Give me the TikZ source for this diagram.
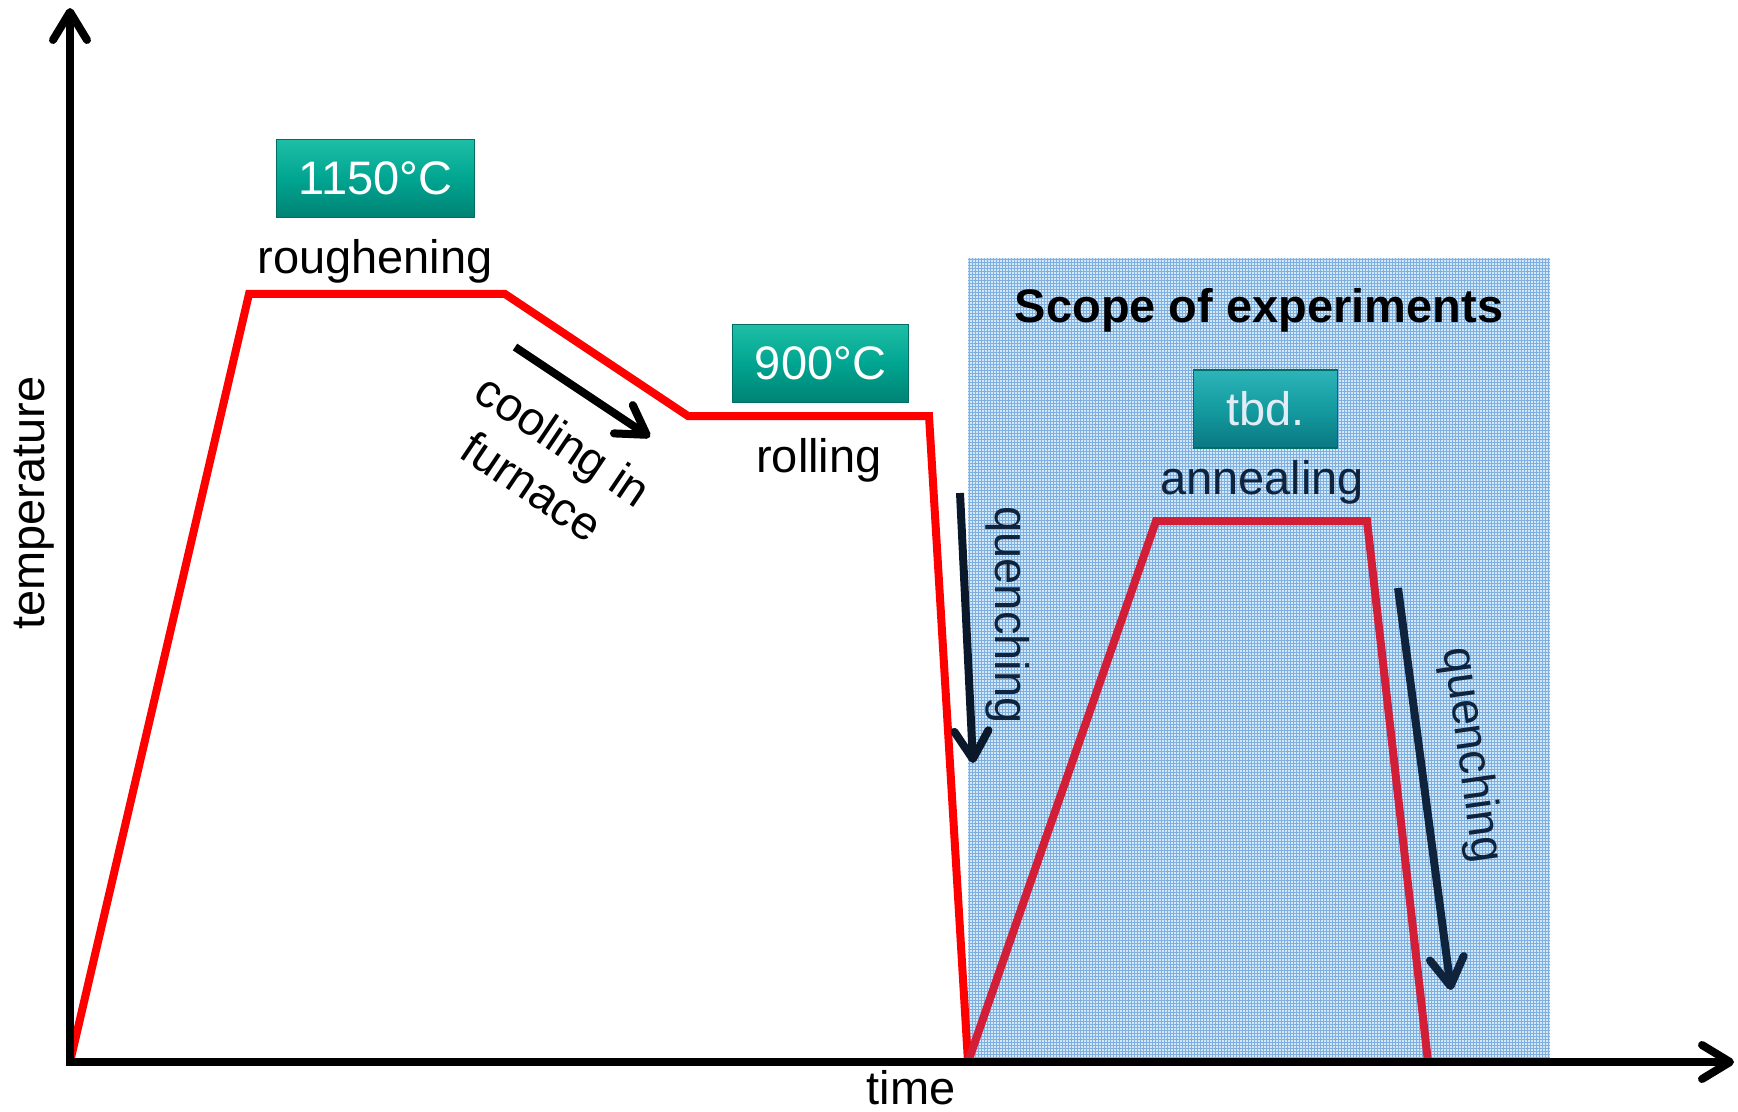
\documentclass[tikz,border=0pt]{standalone}
\usepackage{fontspec}
\setmainfont{Liberation Sans}
\usetikzlibrary{arrows.meta}
\definecolor{curvered}{RGB}{255,0,0}
\definecolor{curvedark}{RGB}{210,30,55}
\definecolor{navy}{RGB}{15,35,60}
\definecolor{scopebase}{RGB}{212,232,248}
\definecolor{scopeline}{RGB}{125,175,225}
\definecolor{tealtop}{RGB}{30,190,165}
\definecolor{tealmid}{RGB}{0,165,145}
\definecolor{tealbot}{RGB}{0,130,115}
\definecolor{tealedge}{RGB}{0,110,100}
\definecolor{tbdtop}{RGB}{45,180,185}
\definecolor{tbdmid}{RGB}{20,155,160}
\definecolor{tbdbot}{RGB}{10,120,130}
\definecolor{tbdtext}{RGB}{225,236,246}
\begin{document}
\begin{tikzpicture}[x=0.5pt,y=-0.5pt,
  lbl/.style={font=\fontsize{23.5}{28}\selectfont, inner sep=0pt},
  tealbox/.style={font=\fontsize{23.5}{28}\selectfont, text=white, inner sep=0pt,
    top color=tealtop, bottom color=tealbot, middle color=tealmid,
    draw=tealedge, line width=0.6pt, minimum height=39pt},
  tbdbox/.style={tealbox, top color=tbdtop, bottom color=tbdbot, middle color=tbdmid, text=tbdtext},
  redline/.style={draw=curvered, line width=4pt},
  darkline/.style={draw=curvedark, line width=4pt},
  barb/.style={-{Straight Barb[length=14pt,width=17pt,line cap=round,line join=round]}},
  arr/.style={barb, line width=4pt},
  axis/.style={line width=4pt, {Straight Barb[length=14pt,width=17pt,line cap=round,line join=round]}-{Straight Barb[length=14pt,width=17pt,line cap=round,line join=round]}}
]
\useasboundingbox (0,0) rectangle (1738,1112);

% scope of experiments region
\fill[scopebase] (968,258) rectangle (1550,1062);
\foreach \x in {969,972,...,1548} \draw[scopeline, line width=0.3pt] (\x,258) -- (\x,1062);
\foreach \y in {259,262,...,1061} \draw[scopeline, line width=0.3pt] (968,\y) -- (1550,\y);

% curve points
\coordinate (o) at (70,1062);
\coordinate (p1) at (249,294);
\coordinate (p2) at (505,294);
\coordinate (p3) at (688,416);
\coordinate (p4) at (929,416);
\coordinate (p5) at (968,1062);
\coordinate (q1) at (1156,521);
\coordinate (q2) at (1367,521);
\coordinate (q3) at (1428,1062);

\draw[redline] (o) -- (p1) -- (p2) -- (p3) -- (p4) -- (p5);
\draw[darkline] (p5) -- (q1) -- (q2) -- (q3);

% arrows
\coordinate (c1) at (515,347);
\coordinate (c2) at (650,437);
\draw[arr, black] (c1) -- (c2);
\coordinate (qa1) at (960,493);
\coordinate (qa2) at (973,763);
\draw[arr, draw=navy!70!black] (qa1) -- (qa2);
\coordinate (qb1) at (1398,588);
\coordinate (qb2) at (1451,990);
\draw[arr, draw=navy] (qb1) -- (qb2);

% labels
\node[lbl, anchor=base] (rough) at (375,274) {roughening};
\node[lbl, anchor=base] (roll) at (819,472) {rolling};
\node[lbl, anchor=base, text=navy] (anneal) at (1262,494) {annealing};
\node[lbl, anchor=base, font=\fontsize{23.5}{28}\selectfont\bfseries] (scope) at (1259,323) {Scope of experiments};
\node[lbl, rotate=90, anchor=base] (temp) at (44,503) {temperature};
\node[lbl] (time) at (911,1088) {time};
\node[lbl, align=center, rotate=-34] (cool) at (548,463) {cooling in\\furnace};
\node[lbl, rotate=-90, text=navy] (quench1) at (1008,615) {quenching};
\node[lbl, rotate=-82, text=navy] (quench2) at (1471,755) {quenching};

% temperature boxes
\node[tealbox, minimum width=99pt] (b1150) at (375.5,178.5) {1150°C};
\node[tealbox, minimum width=88pt] (b900) at (820.5,363.5) {900°C};
\node[tbdbox, minimum width=72pt] (btbd) at (1265.5,409) {tbd.};

% axes
\coordinate (ytip) at (70,8);
\coordinate (xtip) at (1734,1062);
\draw[axis] (ytip) -- (o) -- (xtip);
\end{tikzpicture}
\end{document}
